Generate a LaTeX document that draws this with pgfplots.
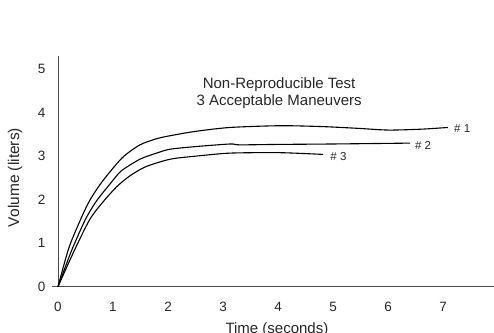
\documentclass[border=0pt]{standalone}
\usepackage{fontspec}
\setmainfont{Liberation Sans}
\usepackage{pgfplots}
\pgfplotsset{compat=1.18}
\begin{document}
\begin{tikzpicture}
\begin{axis}[
  x=55pt, y=43.5pt,
  xmin=0, xmax=8, ymin=0, ymax=5.3,
  axis lines=left,
  axis line style={-, draw=black!70, line width=0.9pt},
  clip=false,
  xtick={0,1,...,8}, ytick={0,1,...,5},
  major tick length=0pt,
  /pgf/number format/assume math mode=true,
  tick label style={font=\fontsize{13.5}{15}\selectfont, text=black!85},
  xticklabel style={anchor=base, yshift=-24.5pt},
  yticklabel style={xshift=-9pt},
]
\coordinate (bl) at (axis cs:-1.0545,-1.064);
\coordinate (tr) at (axis cs:7.927,6.59);
\draw[black!70, line width=0.9pt] (axis cs:-0.11,0) -- (axis cs:0,0);
\addplot[black, line width=1.1pt, smooth, tension=0.45] coordinates {
(0,0) (0.2,0.9) (0.43,1.6) (0.58,1.99) (0.76,2.34) (0.945,2.64) (1.19,2.99) (1.49,3.26) (1.79,3.40) (2.04,3.47) (2.5,3.57) (3.13,3.66) (4.04,3.70) (4.8,3.68) (5.45,3.64) (6.0,3.60) (6.6,3.62) (7.09,3.66)};
\addplot[black, line width=1.1pt, smooth, tension=0.45] coordinates {
(0,0) (0.25,0.84) (0.5,1.55) (0.70,1.97) (0.945,2.36) (1.15,2.66) (1.49,2.93) (1.79,3.07) (2.04,3.16) (2.5,3.22) (3.13,3.28) (3.3,3.26) (4,3.27) (5,3.28) (6.4,3.30)};
\addplot[black, line width=1.1pt, smooth, tension=0.45] coordinates {
(0,0) (0.3,0.84) (0.58,1.55) (0.82,1.95) (1.07,2.3) (1.31,2.55) (1.6,2.76) (2.04,2.93) (2.5,3.0) (3.13,3.07) (4.04,3.08) (4.82,3.04)};
\node[font=\fontsize{11.5}{13}\selectfont, anchor=west, inner sep=0pt, text=black!85] at (axis cs:7.20,3.63) {\# 1};
\node[font=\fontsize{11.5}{13}\selectfont, anchor=west, inner sep=0pt, text=black!85] at (axis cs:6.49,3.24) {\# 2};
\node[font=\fontsize{11.5}{13}\selectfont, anchor=west, inner sep=0pt, text=black!85] at (axis cs:4.95,2.99) {\# 3};
\node[font=\fontsize{15}{16.7}\selectfont, align=center, text=black!85] at (axis cs:4.02,4.45) {Non-Reproducible Test\\3 Acceptable Maneuvers};
\node[font=\fontsize{15.5}{17}\selectfont, rotate=90, text=black!85] at (axis cs:-0.78,2.51) {Volume (liters)};
\node[font=\fontsize{15}{17}\selectfont, anchor=base, text=black!85] at (axis cs:3.98,-1.07) {Time (seconds)};
\end{axis}
\pgfresetboundingbox
\path[use as bounding box] (bl) rectangle (tr);
\end{tikzpicture}
\end{document}
